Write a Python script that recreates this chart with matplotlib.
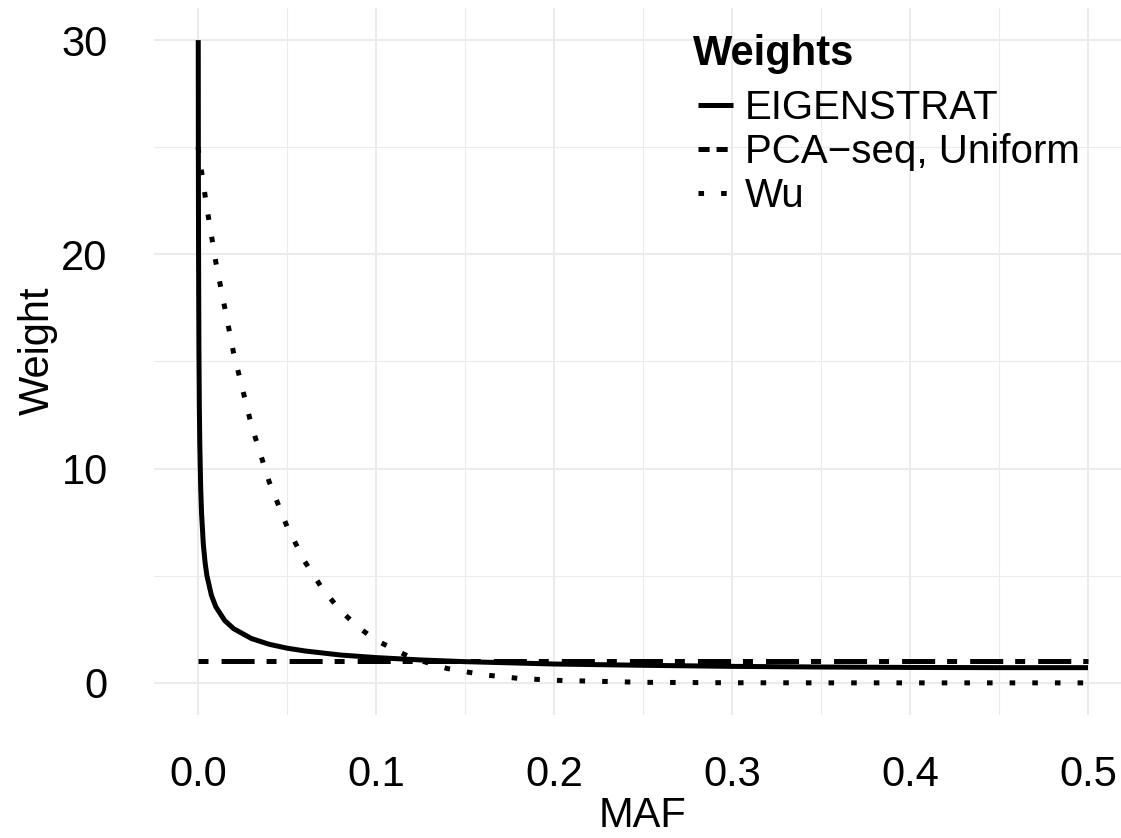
import numpy as np
import matplotlib
matplotlib.use("Agg")
import matplotlib.pyplot as plt
from matplotlib.lines import Line2D

plt.rcParams['font.family'] = ['Liberation Sans', 'DejaVu Sans']
plt.rcParams['lines.scale_dashes'] = False

# --- data ---
maf_eig = [0.00014, 0.0002, 0.0003, 0.0005, 0.00075, 0.001, 0.0015, 0.002, 0.003,
           0.004, 0.005, 0.0075, 0.01, 0.015, 0.02, 0.03, 0.04, 0.05, 0.06, 0.08,
           0.1, 0.125, 0.15, 0.2, 0.25, 0.3, 0.35, 0.4, 0.45, 0.5]
w_eigenstrat = [30.0, 25.0, 20.4, 15.8, 12.9, 11.19, 9.14, 7.91, 6.46,
                5.60, 5.01, 4.10, 3.55, 2.91, 2.53, 2.07, 1.80, 1.62, 1.49, 1.30,
                1.18, 1.07, 0.99, 0.88, 0.82, 0.77, 0.74, 0.72, 0.71, 0.71]

maf_wu = [0.0, 0.005, 0.01, 0.02, 0.03, 0.04, 0.05, 0.06, 0.07, 0.08, 0.09, 0.1,
          0.12, 0.14, 0.16, 0.18, 0.2, 0.25, 0.3, 0.35, 0.4, 0.45, 0.5]
w_wu = [25.0, 22.17, 19.64, 15.40, 12.03, 9.38, 7.30, 5.66, 4.38, 3.38, 2.60, 1.99,
        1.16, 0.67, 0.38, 0.21, 0.12, 0.025, 0.005, 0.001, 0.0, 0.0, 0.0]

maf_unif = [0.0, 0.5]
w_uniform = [1.0, 1.0]

x_ticks = [0.0, 0.1, 0.2, 0.3, 0.4, 0.5]
y_ticks = [0, 10, 20, 30]
legend_title = "Weights"
legend_labels = ["EIGENSTRAT", "PCA\u2212seq, Uniform", "Wu"]

W, H = 1121, 838
fig = plt.figure(figsize=(W / 100, H / 100), dpi=100)
ax = fig.add_axes([153.5 / W, 123 / H, 979 / W, 707 / H])

lw = 3.6
ax.plot(maf_unif, w_uniform, color="black", lw=lw,
        dashes=(7.2, 9.4, 23.8, 8.6), dash_capstyle="butt")
ax.plot(maf_eig, w_eigenstrat, color="black", lw=lw, solid_capstyle="butt")
ax.plot(maf_wu, w_wu, color="black", lw=lw, dashes=(4.0, 12.3), dash_capstyle="butt")

ax.set_xlim(-0.025, 0.525)
ax.set_ylim(-1.5, 31.5)
ax.set_xticks(x_ticks)
ax.set_xticklabels([f"{v:.1f}" for v in x_ticks])
ax.set_yticks(y_ticks)
ax.set_xticks(np.arange(0.05, 0.5, 0.1), minor=True)
ax.set_yticks([5, 15, 25], minor=True)

ax.grid(True, which="major", color="#EBEBEB", lw=1.5)
ax.grid(True, which="minor", color="#EBEBEB", lw=0.8)
ax.set_axisbelow(True)
for s in ax.spines.values():
    s.set_visible(False)
ax.tick_params(which="both", length=0, labelsize=30, labelcolor="black")
ax.tick_params(axis="y", pad=33)
ax.tick_params(axis="x", pad=29)

ax.set_xlabel("MAF", fontsize=30)
ax.xaxis.set_label_coords(0.5, -0.114)
ax.set_ylabel("Weight", fontsize=30, va="center")
ax.yaxis.set_label_coords(-0.118, 0.515)

# legend: title drawn as its own text, keys + labels via ax.legend
fig.text(693 / W, 1 - 65 / H, legend_title, fontsize=30, fontweight="bold",
         ha="left", va="baseline")
handles = [
    Line2D([], [], color="black", lw=lw, solid_capstyle="butt"),
    Line2D([], [], color="black", lw=lw, dashes=(8, 5), dash_capstyle="butt"),
    Line2D([], [], color="black", lw=lw, dashes=(4.0, 12.3), dash_capstyle="butt"),
]
leg = ax.legend(handles, legend_labels, loc="upper left",
                bbox_to_anchor=(698 / W, 1 - 89 / H), bbox_transform=fig.transFigure,
                frameon=False, fontsize=29,
                handlelength=0.87, handletextpad=0.3, labelspacing=0.15,
                borderpad=0, borderaxespad=0)

fig.savefig("out.png", dpi=100)
